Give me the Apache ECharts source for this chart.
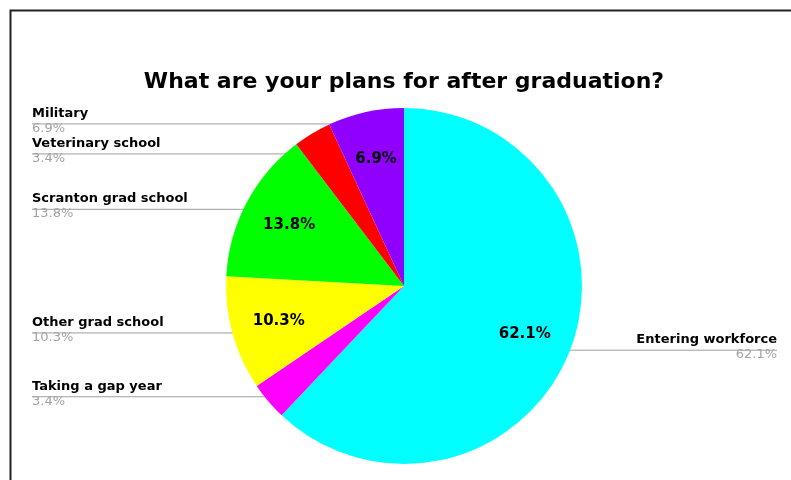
<!DOCTYPE html>
<html>
<head>
<meta charset="utf-8">
<script src="https://cdn.jsdelivr.net/npm/echarts@6/dist/echarts.min.js"></script>
<style>
  html, body { margin: 0; padding: 0; background: #fff; }
  #chart { width: 791px; height: 480px; }
</style>
</head>
<body>
<div id="chart"></div>
<script>
// Survey answers, clockwise from 12 o'clock
const categories = ['Entering workforce', 'Taking a gap year', 'Other grad school', 'Scranton grad school', 'Veterinary school', 'Military'];
const responses = [18, 1, 3, 4, 1, 2];
const sliceColors = ['#00ffff', '#ff00ff', '#ffff00', '#00ff00', '#ff0000', '#8f00ff'];
const chartTitle = 'What are your plans for after graduation?';

const total = responses.reduce((a, b) => a + b, 0);
const pctText = v => (v / total * 100).toFixed(1) + '%';
const FONT = '"DejaVu Sans", Verdana, sans-serif';

const sliceData = categories.map((name, i) => ({
  name: name,
  value: responses[i],
  itemStyle: { color: sliceColors[i] }
}));
const ghostData = categories.map((name, i) => ({ name: name, value: responses[i] }));

// shared placement for the stacked pie layers
const box = { left: 18, right: 0, top: 0, bottom: 0, center: [386, 286] };
const calloutBox = { left: 18, right: 0, top: 0, bottom: 0, center: [386, 288] };
const ghost = { color: 'rgba(0,0,0,0)' };

const chart = echarts.init(document.getElementById('chart'), null, { renderer: 'canvas' });
chart.setOption({
  animation: false,
  backgroundColor: '#fff',
  title: {
    text: chartTitle,
    left: 404,
    top: 71,
    textAlign: 'center',
    padding: 0,
    textStyle: { fontFamily: FONT, fontWeight: 'bold', fontSize: 22, color: '#000' }
  },
  graphic: [{
    type: 'rect',
    silent: true,
    shape: { x: 10.5, y: 10.5, width: 900, height: 600 },
    style: { fill: 'none', stroke: '#222', lineWidth: 2 }
  }],
  series: [
    {
      // coloured slices
      type: 'pie',
      ...box,
      radius: 178,
      startAngle: 90,
      clockwise: true,
      silent: true,
      label: { show: false },
      labelLine: { show: false },
      data: sliceData
    },
    {
      // percentage printed inside the larger slices
      type: 'pie',
      ...box,
      radius: [76, 178],
      startAngle: 90,
      silent: true,
      itemStyle: ghost,
      label: {
        show: true,
        position: 'inside',
        fontFamily: FONT,
        fontWeight: 'bold',
        fontSize: 15,
        color: '#000',
        textBorderWidth: 0,
        formatter: p => (p.value / total >= 0.05 ? pctText(p.value) : '')
      },
      labelLine: { show: false },
      data: ghostData
    },
    {
      // callout names + percentages along the edges
      type: 'pie',
      ...calloutBox,
      radius: 167,
      startAngle: 90,
      silent: true,
      itemStyle: ghost,
      label: {
        show: true,
        position: 'outer',
        alignTo: 'edge',
        edgeDistance: 14,
        formatter: p => '{n|' + p.name + '}\n{p|' + pctText(p.value) + '}',
        rich: {
          n: { fontFamily: FONT, fontWeight: 'bold', fontSize: 13, color: '#000', lineHeight: 15 },
          p: { fontFamily: FONT, fontSize: 13, color: '#a3a3a3', lineHeight: 15 }
        }
      },
      labelLine: {
        show: true,
        length: 1,
        length2: 8,
        smooth: false,
        lineStyle: { color: '#9e9e9e', width: 1 }
      },
      labelLayout: function (params) {
        const rect = params.labelRect;
        const pts = params.labelLinePoints;
        if (!pts) return {};
        // run the leader line underneath the whole label
        const onLeft = pts[2][0] < pts[0][0];
        pts[2][0] = onLeft ? rect.x : rect.x + rect.width;
        return { labelLinePoints: pts, y: rect.y + rect.height / 2 - 3 };
      },
      data: ghostData
    }
  ]
});
</script>
</body>
</html>
